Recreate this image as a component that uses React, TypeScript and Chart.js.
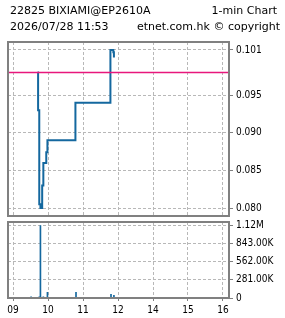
import React, { useEffect, useRef } from "react";
import { Chart, registerables } from "chart.js";
Chart.register(...registerables);

const titleLeft1 = "22825 BIXIAMI@EP2610A";
const titleRight1 = "1-min Chart";
const titleLeft2 = "2026/07/28 11:53";
const titleRight2 = "etnet.com.hk \u00a9 copyright";

const priceTimes = ["09:42", "09:43", "09:45", "09:47", "09:50", "09:52", "09:57", "09:59", "10:47", "11:47", "11:52", "11:53"];
const prices = [0.098, 0.093, 0.0805, 0.08, 0.083, 0.086, 0.0874, 0.089, 0.094, 0.101, 0.1007, 0.1];
const prevClose = 0.098;

const volTimes = ["09:31", "09:45", "09:47", "09:52", "09:59", "10:48", "11:48", "11:53"];
const volumes = [18000, 18000, 1124000, 18000, 88000, 88000, 57000, 42000];

const xTickValues = [0, 60, 120, 180, 240, 300, 360];
const xTickLabels = ["09", "10", "11", "12", "14", "15", "16"];
const priceTicks = [0.08, 0.085, 0.09, 0.095, 0.101];
const priceTickLabels = ["0.080", "0.085", "0.090", "0.095", "0.101"];
const volTicks = [0, 281000, 562000, 843000, 1124000];
const volTickLabels = ["0", "281.00K", "562.00K", "843.00K", "1.12M"];

const X_MIN = -8.6;
const X_MAX = 370.3;
const BLUE = "#14689f";
const PINK = "#e8177c";
const GRID = "#b8b8b8";
const FRAME = "#808080";
const TICK_FONT = { family: '"DejaVu Sans Condensed", "DejaVu Sans", sans-serif', size: 10 };

function toX(t: string): number {
  const [h, m] = t.split(":").map(Number);
  let mins = (h - 9) * 60 + m;
  if (h >= 13) mins -= 60;
  return mins;
}

const framePlugin = {
  id: "frame",
  afterDraw(chart: any) {
    const { ctx, chartArea } = chart;
    ctx.save();
    ctx.strokeStyle = FRAME;
    ctx.lineWidth = 2;
    ctx.strokeRect(chartArea.left, chartArea.top, chartArea.right - chartArea.left, chartArea.bottom - chartArea.top);
    ctx.restore();
  },
};

const titlePlugin = {
  id: "titles",
  afterDraw(chart: any) {
    const ctx = chart.ctx;
    ctx.save();
    ctx.fillStyle = "#000";
    ctx.font = '11px "DejaVu Sans", sans-serif';
    ctx.textBaseline = "alphabetic";
    ctx.textAlign = "left";
    ctx.fillText(titleLeft1, 10, 14);
    ctx.fillText(titleLeft2, 10, 30);
    ctx.textAlign = "right";
    ctx.fillText(titleRight1, 277, 14);
    ctx.fillText(titleRight2, 280, 30);
    ctx.restore();
  },
};

function xAxis(showLabels: boolean) {
  return {
    type: "linear",
    min: X_MIN,
    max: X_MAX,
    offset: false,
    bounds: "data",
    afterBuildTicks: (s: any) => {
      s.ticks = xTickValues.map((v) => ({ value: v }));
    },
    afterFit: (s: any) => {
      s.height = showLabels ? 20 : 0;
    },
    ticks: {
      display: showLabels,
      autoSkip: false,
      maxRotation: 0,
      padding: 3,
      color: "#000",
      font: TICK_FONT,
      callback: (v: number) => {
        const i = xTickValues.indexOf(v);
        return i >= 0 ? xTickLabels[i] : "";
      },
    },
    grid: {
      offset: false,
      color: GRID,
      lineWidth: 1,
      drawTicks: showLabels,
      tickLength: 3,
      tickColor: FRAME,
      tickBorderDash: [],
    },
    border: { display: false, dash: [3, 2] },
  };
}

function yAxis(min: number, max: number, tickVals: number[], tickLabels: string[]) {
  return {
    type: "linear",
    position: "right",
    min,
    max,
    afterBuildTicks: (s: any) => {
      s.ticks = tickVals.map((v) => ({ value: v }));
    },
    afterFit: (s: any) => {
      s.width = 56;
    },
    ticks: {
      autoSkip: false,
      padding: 3,
      color: "#000",
      font: TICK_FONT,
      callback: (v: number) => {
        const i = tickVals.findIndex((t) => Math.abs(t - v) < 1e-9 * Math.max(1, Math.abs(t)));
        return i >= 0 ? tickLabels[i] : "";
      },
    },
    grid: {
      color: GRID,
      lineWidth: 1,
      drawTicks: true,
      tickLength: 4,
      tickColor: FRAME,
      tickBorderDash: [],
    },
    border: { display: false, dash: [3, 2] },
  };
}

export default function App() {
  const priceRef = useRef<HTMLCanvasElement>(null);
  const volRef = useRef<HTMLCanvasElement>(null);

  useEffect(() => {
    const pLo = Math.min(...priceTicks);
    const pHi = Math.max(...priceTicks);
    const pPad = (pHi - pLo) * 0.05;
    const priceChart = new Chart(priceRef.current as HTMLCanvasElement, {
      type: "line",
      data: {
        datasets: [
          {
            data: [
              { x: X_MIN, y: prevClose },
              { x: X_MAX, y: prevClose },
            ],
            borderColor: PINK,
            borderWidth: 1.5,
            pointRadius: 0,
            fill: false,
          },
          {
            data: priceTimes.map((t, i) => ({ x: toX(t), y: prices[i] })),
            borderColor: BLUE,
            borderWidth: 2,
            pointRadius: 0,
            stepped: "before",
            fill: false,
          },
        ],
      },
      options: {
        animation: false,
        responsive: false,
        maintainAspectRatio: false,
        events: [],
        layout: { padding: { left: 8, top: 42, right: 0, bottom: 102 } },
        plugins: { legend: { display: false }, tooltip: { enabled: false }, title: { display: false } },
        scales: {
          x: xAxis(false) as any,
          y: yAxis(pLo - pPad, pHi + pPad, priceTicks, priceTickLabels) as any,
        },
      },
      plugins: [framePlugin, titlePlugin],
    } as any);

    const vMax = Math.max(...volumes);
    const volChart = new Chart(volRef.current as HTMLCanvasElement, {
      type: "bar",
      data: {
        datasets: [
          {
            data: volTimes.map((t, i) => ({ x: toX(t), y: volumes[i] })),
            backgroundColor: BLUE,
            borderWidth: 0,
            barThickness: 1,
          },
        ],
      },
      options: {
        animation: false,
        responsive: false,
        maintainAspectRatio: false,
        events: [],
        layout: { padding: { left: 8, top: 222, right: 0, bottom: 0 } },
        plugins: { legend: { display: false }, tooltip: { enabled: false }, title: { display: false } },
        scales: {
          x: xAxis(true) as any,
          y: yAxis(0, vMax * 1.05, volTicks, volTickLabels) as any,
        },
      },
      plugins: [framePlugin],
    } as any);

    return () => {
      priceChart.destroy();
      volChart.destroy();
    };
  }, []);

  const canvasStyle: React.CSSProperties = { position: "absolute", left: 0, top: 0 };
  return (
    <div style={{ position: "absolute", left: 0, top: 0, width: 285, height: 318, background: "#fff" }}>
      <canvas ref={priceRef} width={285} height={318} style={canvasStyle} />
      <canvas ref={volRef} width={285} height={318} style={canvasStyle} />
    </div>
  );
}
